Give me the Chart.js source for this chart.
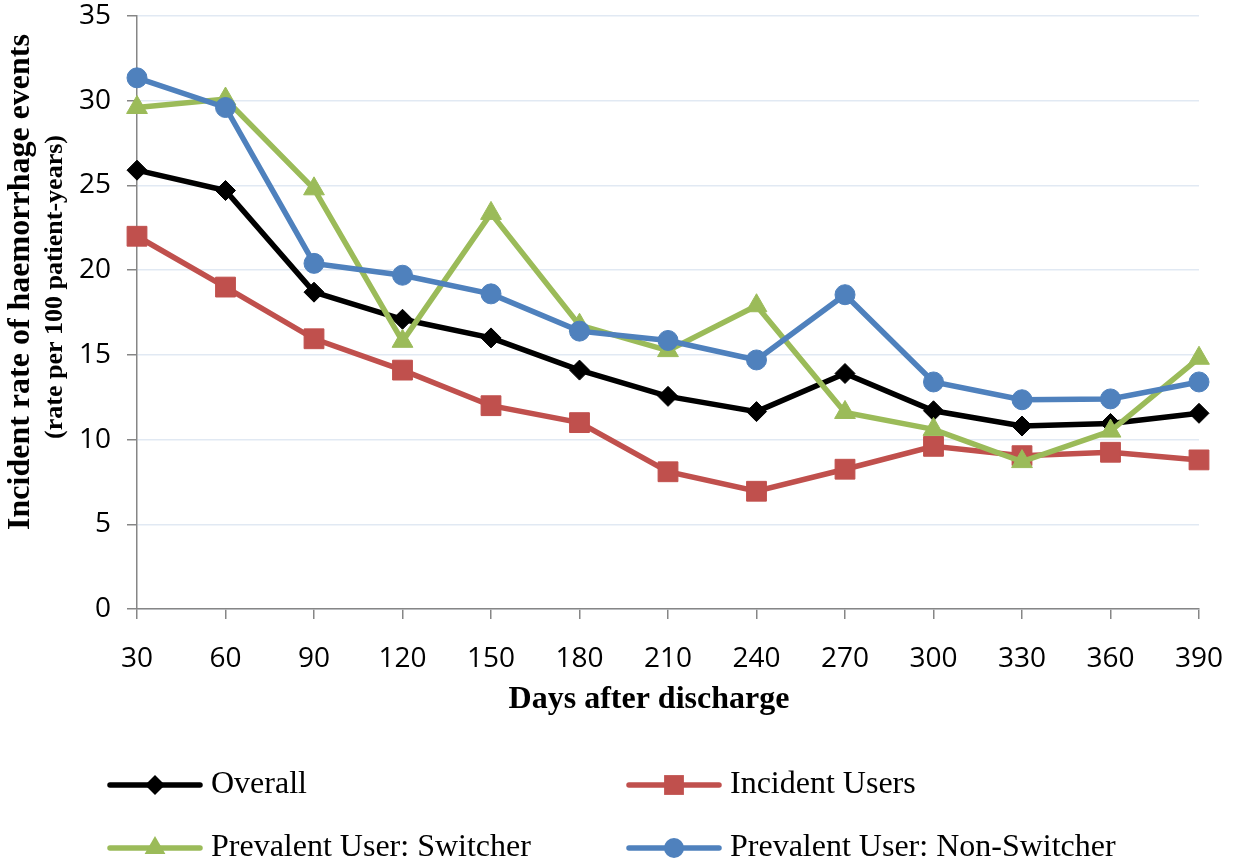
<!DOCTYPE html>
<html>
<head>
<meta charset="utf-8">
<script src="https://cdn.jsdelivr.net/npm/chart.js@4.4.0/dist/chart.umd.min.js"></script>
<style>
  html, body { margin: 0; padding: 0; background: #fff; }
  #wrap { width: 1234px; height: 867px; position: relative; }
</style>
</head>
<body>
<div id="wrap"><canvas id="chart"></canvas></div>
<script>
var days = ['30', '60', '90', '120', '150', '180', '210', '240', '270', '300', '330', '360', '390'];

var overall = [25.9, 24.7, 18.7, 17.1, 16.0, 14.1, 12.55, 11.65, 13.9, 11.7, 10.8, 10.95, 11.55];
var incidentUsers = [22.0, 19.0, 15.95, 14.1, 12.0, 11.0, 8.1, 6.95, 8.25, 9.6, 9.05, 9.25, 8.8];
var switcher = [29.6, 30.1, 24.8, 15.8, 23.35, 16.75, 15.25, 17.9, 11.6, 10.6, 8.7, 10.5, 14.8];
var nonSwitcher = [31.35, 29.6, 20.4, 19.7, 18.6, 16.4, 15.85, 14.7, 18.55, 13.4, 12.35, 12.4, 13.4];

var seriesNames = ['Overall', 'Incident Users', 'Prevalent User: Switcher', 'Prevalent User: Non-Switcher'];
var yTicks = [0, 5, 10, 15, 20, 25, 30, 35];

var ctx = document.getElementById('chart').getContext('2d');

function series(label, data, color, style, radius, order) {
    return {
        label: label,
        data: data,
        borderColor: color,
        backgroundColor: color,
        borderWidth: 5.5,
        pointStyle: style,
        pointRadius: radius,
        pointHoverRadius: radius,
        pointBackgroundColor: color,
        pointBorderColor: color,
        pointBorderWidth: 1,
        tension: 0,
        fill: false,
        order: order
    };
}

// axis titles (y has two lines of different size) and the 2x2 legend
var extras = {
    id: 'extras',
    afterDraw: function(chart) {
        var c = chart.ctx;
        c.save();
        c.fillStyle = '#000';
        c.textAlign = 'center';
        c.textBaseline = 'middle';
        c.font = 'bold 32px "Liberation Serif"';
        c.fillText('Days after discharge', 649, 700);
        c.translate(21, 282);
        c.rotate(-Math.PI / 2);
        c.fillText('Incident rate of haemorrhage events', 0, 0);
        c.font = 'bold 26px "Liberation Serif"';
        c.fillText('(rate per 100 patient-years)', -5, 34);
        c.restore();

        var spots = [[110, 785], [629, 785], [110, 848], [629, 848]];
        chart.data.datasets.forEach(function(ds, i) {
            var x = spots[i][0], y = spots[i][1];
            c.save();
            c.strokeStyle = ds.borderColor;
            c.fillStyle = ds.borderColor;
            c.lineWidth = 5.5;
            c.lineCap = 'round';
            c.beginPath();
            c.moveTo(x, y);
            c.lineTo(x + 90, y);
            c.stroke();
            Chart.helpers.drawPoint(c, {
                pointStyle: ds.pointStyle,
                radius: ds.pointRadius,
                rotation: 0,
                borderWidth: 0
            }, x + 45, y);
            c.fillStyle = '#000';
            c.font = '32px "Liberation Serif"';
            c.textAlign = 'left';
            c.textBaseline = 'middle';
            c.fillText(ds.label, x + 101, y);
            c.restore();
        });
    }
};

var chart = new Chart(ctx, {
    type: 'line',
    data: {
        labels: days,
        datasets: [
            series(seriesNames[0], overall, '#000000', 'rectRot', 10, 3),
            series(seriesNames[1], incidentUsers, '#c0504d', 'rect', 14, 2),
            series(seriesNames[2], switcher, '#9bbb59', 'triangle', 12, 1),
            series(seriesNames[3], nonSwitcher, '#4f81bd', 'circle', 10, 0)
        ]
    },
    options: {
        responsive: true,
        maintainAspectRatio: false,
        animation: false,
        layout: { padding: { left: 0, right: 35, top: 16, bottom: 148 } },
        plugins: {
            legend: { display: false },
            tooltip: { enabled: false }
        },
        scales: {
            x: {
                offset: false,
                afterFit: function(scale) {
                    scale.height = 110;
                    scale.paddingLeft = 0;
                    scale.paddingRight = 0;
                },
                grid: {
                    drawOnChartArea: false,
                    tickLength: 10,
                    tickColor: '#868686',
                    lineWidth: 1.5
                },
                border: { color: '#868686', width: 1.5 },
                ticks: {
                    color: '#000',
                    padding: 23,
                    maxRotation: 0,
                    font: { family: 'Open Sans', size: 28 }
                }
            },
            y: {
                min: 0,
                max: 35,
                afterFit: function(scale) {
                    scale.width = 137;
                    scale.paddingTop = 0;
                    scale.paddingBottom = 0;
                },
                afterBuildTicks: function(scale) {
                    scale.ticks = yTicks.map(function(v) { return { value: v }; });
                },
                grid: {
                    color: '#e1e9f3',
                    lineWidth: 1.5,
                    tickLength: 10,
                    tickColor: '#868686'
                },
                border: { color: '#868686', width: 1.5 },
                ticks: {
                    color: '#000',
                    padding: 16,
                    font: { family: 'Open Sans', size: 28 }
                }
            }
        }
    },
    plugins: [extras]
});
</script>
</body>
</html>
